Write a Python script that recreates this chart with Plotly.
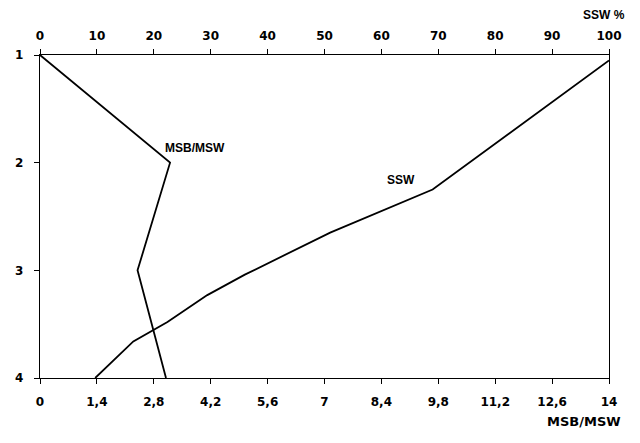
import plotly.graph_objects as go

# Data
depth_levels = [1, 2, 3, 4]
msb_msw = [0, 3.2, 2.4, 3.1]

ssw_depth = [1.05, 2.25, 2.65, 3.04, 3.23, 3.48, 3.66, 4.0]
ssw_pct = [100, 69, 51, 36, 29.4, 22.4, 16.4, 9.7]

bottom_ticks = [0, 1.4, 2.8, 4.2, 5.6, 7, 8.4, 9.8, 11.2, 12.6, 14]
bottom_labels = ["0", "1,4", "2,8", "4,2", "5,6", "7", "8,4", "9,8", "11,2", "12,6", "14"]
top_ticks = [0, 10, 20, 30, 40, 50, 60, 70, 80, 90, 100]
y_ticks = [1, 2, 3, 4]

TICKFONT = dict(family="DejaVu Sans", size=12, color="black", weight="bold")
LABFONT = "Liberation Sans"

fig = go.Figure()
fig.add_trace(go.Scatter(x=msb_msw, y=depth_levels, mode="lines",
                         line=dict(color="black", width=1.8), xaxis="x", yaxis="y",
                         showlegend=False))
fig.add_trace(go.Scatter(x=ssw_pct, y=ssw_depth, mode="lines",
                         line=dict(color="black", width=1.8), xaxis="x2", yaxis="y",
                         showlegend=False))

axis_common = dict(showgrid=False, zeroline=False, showline=True, linecolor="black",
                   linewidth=1.4, ticks="outside", ticklen=5, tickcolor="black",
                   tickfont=TICKFONT, automargin=False)

fig.update_layout(
    width=632, height=435,
    margin=dict(l=32, r=31, t=47, b=65),
    plot_bgcolor="white", paper_bgcolor="white",
    xaxis=dict(range=[0, 14], tickvals=bottom_ticks, ticktext=bottom_labels,
               ticklabelstandoff=7, **axis_common),
    xaxis2=dict(range=[0, 100], tickvals=top_ticks, overlaying="x", side="top",
                ticklabelstandoff=4, **axis_common),
    yaxis=dict(range=[4, 1], tickvals=y_ticks, mirror=True,
               ticklabelstandoff=8, **axis_common),
    annotations=[
        dict(text="MSB/MSW", x=3.03, y=1.86, xref="x", yref="y", xanchor="left",
             yanchor="middle", showarrow=False,
             font=dict(family=LABFONT, size=12, color="black", weight="bold")),
        dict(text="SSW", x=60.6, y=2.16, xref="x2", yref="y", xanchor="left",
             yanchor="middle", showarrow=False,
             font=dict(family=LABFONT, size=12, color="black", weight="bold")),
        dict(text="SSW %", x=1.031, y=1.124, xref="paper", yref="paper", xanchor="right",
             yanchor="middle", showarrow=False,
             font=dict(family=LABFONT, size=12, color="black", weight="bold")),
        dict(text="MSB/MSW", x=1.024, y=-0.136, xref="paper", yref="paper", xanchor="right",
             yanchor="middle", showarrow=False,
             font=dict(family="DejaVu Sans", size=13, color="black", weight="bold")),
    ],
)

fig.write_html("out.html")
